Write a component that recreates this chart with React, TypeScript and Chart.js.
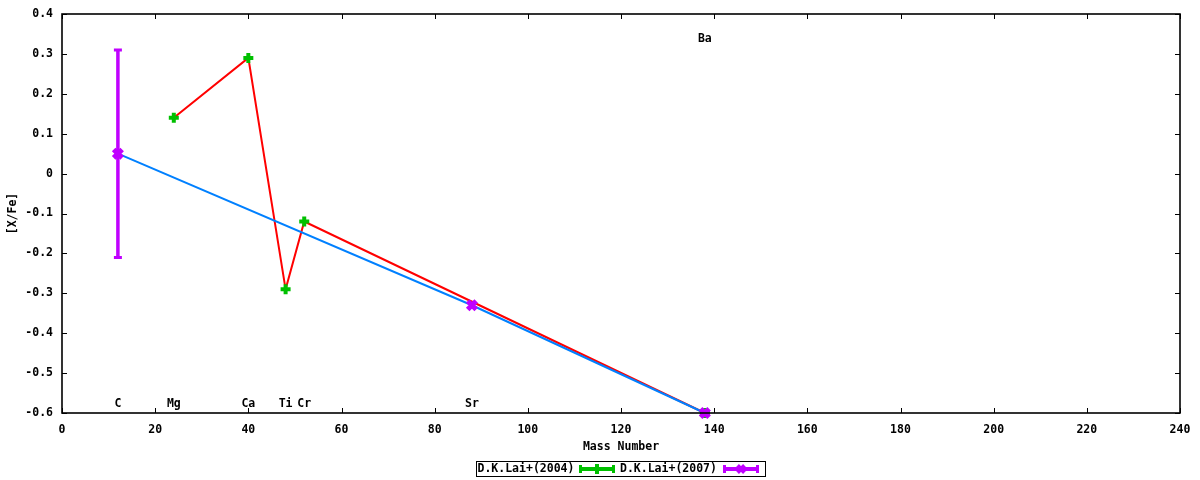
import React, { useEffect, useRef } from 'react';
import { Chart, registerables } from 'chart.js';

Chart.register(...registerables);

// ---- data ----
const massNumbers2004 = [24, 40, 48, 52, 138];
const values2004 = [0.14, 0.29, -0.29, -0.12, -0.6];
const errors2004 = [0, 0, 0, 0, 0];

const massNumbers2007 = [12, 88, 138];
const values2007 = [0.05, -0.33, -0.6];
const errors2007 = [0.26, 0, 0];

const elementNames = ['C', 'Mg', 'Ca', 'Ti', 'Cr', 'Sr', 'Ba'];
const elementMass = [12, 24, 40, 48, 52, 88, 138];
const elementLabelY = [-0.577, -0.577, -0.577, -0.577, -0.577, -0.577, 0.337];

const seriesNames = ['D.K.Lai+(2004)', 'D.K.Lai+(2007)'];
const xAxisTitle = 'Mass Number';
const yAxisTitle = '[X/Fe]';

const xMin = 0;
const xMax = 240;
const xStep = 20;
const yMin = -0.6;
const yMax = 0.4;
const yStep = 0.1;

const RED = '#ff0000';
const GREEN = '#00c000';
const BLUE = '#0080ff';
const PURPLE = '#c000ff';
const FONT_FAMILY = "'DejaVu Sans Mono', 'Liberation Mono', monospace";
const FONT = `bold 11.5px ${FONT_FAMILY}`;

const toPoints = (xs: number[], ys: number[]) => xs.map((x, i) => ({ x, y: ys[i] }));

const errorBarPlugin = {
  id: 'errorBars',
  afterDatasetsDraw(chart: any) {
    const ctx = chart.ctx;
    const xs = chart.scales.x;
    const ys = chart.scales.y;
    const sets = [
      { m: massNumbers2004, v: values2004, e: errors2004, c: GREEN },
      { m: massNumbers2007, v: values2007, e: errors2007, c: PURPLE },
    ];
    ctx.save();
    sets.forEach((s) => {
      s.m.forEach((mx, i) => {
        const err = s.e[i];
        if (!err) return;
        const px = xs.getPixelForValue(mx);
        const pTop = ys.getPixelForValue(s.v[i] + err);
        const pBot = ys.getPixelForValue(s.v[i] - err);
        ctx.strokeStyle = s.c;
        ctx.lineWidth = 3.5;
        ctx.beginPath();
        ctx.moveTo(px, pTop);
        ctx.lineTo(px, pBot);
        ctx.stroke();
        ctx.lineWidth = 3;
        ctx.beginPath();
        ctx.moveTo(px - 4, pTop);
        ctx.lineTo(px + 4, pTop);
        ctx.moveTo(px - 4, pBot);
        ctx.lineTo(px + 4, pBot);
        ctx.stroke();
      });
    });
    ctx.restore();
  },
};

const framePlugin = {
  id: 'frameAndExtras',
  afterDraw(chart: any) {
    const ctx = chart.ctx;
    const { left, right, top, bottom } = chart.chartArea;
    const xs = chart.scales.x;
    const ys = chart.scales.y;
    ctx.save();
    // frame
    ctx.strokeStyle = '#000';
    ctx.lineWidth = 1.6;
    ctx.strokeRect(left, top, right - left, bottom - top);
    // inward ticks, mirrored
    ctx.lineWidth = 1;
    ctx.beginPath();
    xs.ticks.forEach((t: any) => {
      const px = Math.round(xs.getPixelForValue(t.value)) + 0.5;
      ctx.moveTo(px, bottom);
      ctx.lineTo(px, bottom - 5);
      ctx.moveTo(px, top);
      ctx.lineTo(px, top + 5);
    });
    ys.ticks.forEach((t: any) => {
      const py = Math.round(ys.getPixelForValue(t.value)) + 0.5;
      ctx.moveTo(left, py);
      ctx.lineTo(left + 5, py);
      ctx.moveTo(right, py);
      ctx.lineTo(right - 5, py);
    });
    ctx.stroke();

    // element labels
    ctx.fillStyle = '#000';
    ctx.font = FONT;
    ctx.textAlign = 'center';
    ctx.textBaseline = 'middle';
    elementNames.forEach((name, i) => {
      ctx.fillText(name, xs.getPixelForValue(elementMass[i]), ys.getPixelForValue(elementLabelY[i]));
    });

    // legend (gnuplot style: text then sample)
    const boxL = 476.5;
    const boxT = 461.5;
    const boxW = 289;
    const boxH = 15;
    const cy = boxT + boxH / 2;
    ctx.strokeStyle = '#000';
    ctx.lineWidth = 1;
    ctx.strokeRect(boxL, boxT, boxW, boxH);
    ctx.textAlign = 'left';
    ctx.fillText(seriesNames[0], 477.5, cy + 0.5);
    ctx.fillText(seriesNames[1], 620, cy + 0.5);

    const drawSample = (x0: number, x1: number, color: string, rot: boolean) => {
      ctx.strokeStyle = color;
      ctx.lineWidth = 4;
      ctx.beginPath();
      ctx.moveTo(x0, cy);
      ctx.lineTo(x1, cy);
      ctx.stroke();
      ctx.lineWidth = 3;
      ctx.beginPath();
      ctx.moveTo(x0 + 1.5, cy - 4);
      ctx.lineTo(x0 + 1.5, cy + 4);
      ctx.moveTo(x1 - 1.5, cy - 4);
      ctx.lineTo(x1 - 1.5, cy + 4);
      ctx.stroke();
      const mx = (x0 + x1) / 2;
      ctx.lineWidth = 4;
      ctx.beginPath();
      if (rot) {
        ctx.moveTo(mx - 3.5, cy - 3.5);
        ctx.lineTo(mx + 3.5, cy + 3.5);
        ctx.moveTo(mx - 3.5, cy + 3.5);
        ctx.lineTo(mx + 3.5, cy - 3.5);
      } else {
        ctx.moveTo(mx - 5, cy);
        ctx.lineTo(mx + 5, cy);
        ctx.moveTo(mx, cy - 5);
        ctx.lineTo(mx, cy + 5);
      }
      ctx.stroke();
    };
    drawSample(579, 615, GREEN, false);
    drawSample(723, 759, PURPLE, true);
    ctx.restore();
  },
};

export default function App() {
  const canvasRef = useRef<HTMLCanvasElement | null>(null);

  useEffect(() => {
    document.body.style.margin = '0';
    const canvas = canvasRef.current;
    if (!canvas) return;
    const chart = new Chart(canvas, {
      type: 'scatter',
      data: {
        datasets: [
          {
            label: 'lines2004',
            data: toPoints(massNumbers2004, values2004),
            showLine: true,
            borderColor: RED,
            borderWidth: 2,
            pointRadius: 0,
            fill: false,
            order: 3,
            clip: false as any,
          },
          {
            label: seriesNames[0],
            data: toPoints(massNumbers2004, values2004),
            showLine: false,
            pointStyle: 'cross',
            pointRadius: 5,
            borderWidth: 4,
            borderColor: GREEN,
            backgroundColor: GREEN,
            order: 2,
            clip: false as any,
          },
          {
            label: 'lines2007',
            data: toPoints(massNumbers2007, values2007),
            showLine: true,
            borderColor: BLUE,
            borderWidth: 2,
            pointRadius: 0,
            fill: false,
            order: 1,
            clip: false as any,
          },
          {
            label: seriesNames[1],
            data: toPoints(massNumbers2007, values2007),
            showLine: false,
            pointStyle: 'crossRot',
            pointRadius: 6,
            borderWidth: 5,
            borderColor: PURPLE,
            backgroundColor: PURPLE,
            order: 0,
            clip: false as any,
          },
        ],
      },
      options: {
        animation: false,
        responsive: false,
        devicePixelRatio: 1,
        events: [],
        layout: { padding: { top: 14, right: 20, left: 0, bottom: 0 } },
        plugins: {
          legend: { display: false },
          tooltip: { enabled: false },
          title: { display: false },
        },
        scales: {
          x: {
            type: 'linear',
            min: xMin,
            max: xMax,
            grid: { display: false },
            border: { display: false },
            ticks: {
              stepSize: xStep,
              color: '#000',
              font: { family: FONT_FAMILY, size: 11.5, weight: 'bold' },
              padding: 2,
              maxRotation: 0,
            },
            title: {
              display: true,
              text: xAxisTitle,
              color: '#000',
              font: { family: FONT_FAMILY, size: 11.5, weight: 'bold' },
              padding: { top: 26, bottom: 26 },
            },
            afterFit: (scale: any) => {
              scale.height = 67;
            },
          },
          y: {
            type: 'linear',
            min: yMin,
            max: yMax,
            grid: { display: false },
            border: { display: false },
            ticks: {
              stepSize: yStep,
              color: '#000',
              font: { family: FONT_FAMILY, size: 11.5, weight: 'bold' },
              padding: 1,
              callback: (v: any) => {
                const r = Math.round(Number(v) * 10) / 10;
                return r === 0 ? '0' : r.toFixed(1);
              },
            },
            title: {
              display: true,
              text: yAxisTitle,
              color: '#000',
              font: { family: FONT_FAMILY, size: 11.5, weight: 'bold' },
              padding: { top: 6, bottom: 6 },
            },
            afterFit: (scale: any) => {
              scale.width = 62;
            },
          },
        },
      } as any,
      plugins: [errorBarPlugin, framePlugin],
    });
    return () => chart.destroy();
  }, []);

  return (
    <div style={{ width: 1200, height: 480, background: '#fff' }}>
      <canvas ref={canvasRef} width={1200} height={480} style={{ display: 'block' }} />
    </div>
  );
}
